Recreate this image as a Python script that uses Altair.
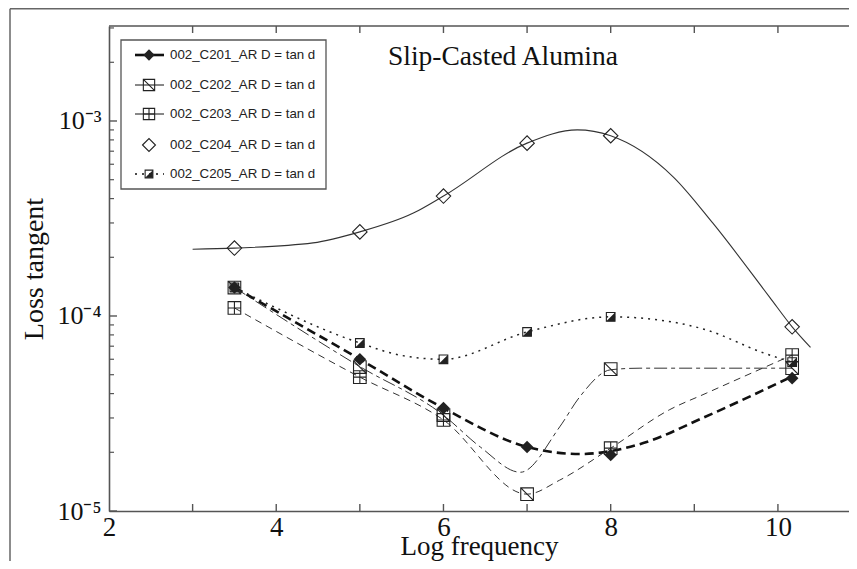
import altair as alt
import pandas as pd

# ---------------- data ----------------
names = ["002_C201_AR D = tan d", "002_C202_AR D = tan d", "002_C203_AR D = tan d",
         "002_C204_AR D = tan d", "002_C205_AR D = tan d"]
title_text = "Slip-Casted Alumina"

marker_x = [3.5, 5.0, 6.0, 7.0, 8.0, 10.17]
c201_marks = [1.40e-4, 6.0e-5, 3.37e-5, 2.13e-5, 1.94e-5, 4.8e-5]
c202_marks = [1.40e-4, 5.47e-5, 3.1e-5, 1.22e-5, 5.34e-5, 5.4e-5]
c203_marks = [1.10e-4, 4.86e-5, 2.93e-5, None, 2.10e-5, 6.3e-5]
c204_marks = [2.23e-4, 2.70e-4, 4.12e-4, 7.7e-4, 8.4e-4, 8.8e-5]
c205_marks = [1.40e-4, 7.27e-5, 6.0e-5, 8.28e-5, 9.9e-5, 5.8e-5]

c201_curve_x = [3.5, 5.0, 6.0, 7.0, 7.63, 8.39, 9.1, 10.17]
c201_curve_y = [1.40e-4, 6.0e-5, 3.37e-5, 2.13e-5, 1.96e-5, 2.23e-5, 3.0e-5, 4.9e-5]
c202_curve_x = [3.5, 5.0, 6.0, 6.44, 6.92, 7.39, 7.63, 8.0, 8.35, 10.17]
c202_curve_y = [1.40e-4, 5.5e-5, 3.1e-5, 2.13e-5, 1.58e-5, 2.7e-5, 3.85e-5, 5.3e-5, 5.4e-5, 5.4e-5]
c203_curve_x = [3.5, 5.0, 6.0, 7.0, 7.39, 8.0, 8.7, 9.15, 10.17]
c203_curve_y = [1.10e-4, 4.86e-5, 2.93e-5, 1.22e-5, 1.44e-5, 2.1e-5, 3.3e-5, 4.03e-5, 6.3e-5]
c204_curve_x = [3.0, 3.5, 4.44, 5.0, 5.64, 6.0, 7.0, 7.6, 8.0, 8.75, 9.22, 9.9, 10.17, 10.39]
c204_curve_y = [2.2e-4, 2.23e-4, 2.37e-4, 2.7e-4, 3.37e-4, 4.12e-4, 7.7e-4, 9.0e-4, 8.4e-4,
                5.16e-4, 3.0e-4, 1.25e-4, 8.8e-5, 6.9e-5]
c205_curve_x = [3.5, 5.0, 5.48, 6.0, 7.0, 8.0, 8.3, 9.15, 9.83, 10.17]
c205_curve_y = [1.40e-4, 7.27e-5, 6.3e-5, 6.0e-5, 8.28e-5, 9.9e-5, 9.8e-5, 8.47e-5, 6.46e-5, 5.8e-5]

x_label_values = [2, 4, 6, 8, 10]
x_tick_values = [3, 4, 5, 6, 7, 8, 9, 10]
y_label_values = [1e-5, 1e-4, 1e-3]
y_minor_values = [2e-5, 3e-5, 4e-5, 5e-5, 6e-5, 7e-5, 8e-5, 9e-5,
                  2e-4, 3e-4, 4e-4, 5e-4, 6e-4, 7e-4, 8e-4, 9e-4, 2e-3, 3e-3]

# ---------------- styling ----------------
W, H = 740, 485
SERIF = "Liberation Serif"
SANS = "Liberation Sans"
INK = "#222222"
AX = "#555555"

xs = alt.Scale(domain=[2, 10.85], nice=False, zero=False)
ys = alt.Scale(type="log", domain=[1e-5, 3.07e-3], nice=False)

xaxis = alt.Axis(values=x_label_values, ticks=False, grid=False, domainColor=AX, domainWidth=1.6,
                 labelFont=SERIF, labelFontSize=27, labelColor="#111", labelPadding=3,
                 labelFlush=False, title="Log frequency", titleFont=SERIF, titleFontSize=27,
                 titleFontWeight="normal", titleColor="#111", titleBaseline="alphabetic", titleY=43)
yaxis = alt.Axis(values=y_label_values, ticks=False, grid=False, domainColor=AX, domainWidth=1.6,
                 labelFont=SERIF, labelFontSize=26, labelColor="#111", labelPadding=8,
                 labelFlush=False,
                 labelExpr="datum.value < 3e-5 ? '10\u207b\u2075' : (datum.value < 3e-4 ? '10\u207b\u2074' : '10\u207b\u00b3')",
                 title="Loss tangent", titleFont=SERIF, titleFontSize=28, titleFontWeight="normal",
                 titleColor="#111", titleAngle=-90, titleBaseline="alphabetic", titleX=-67,
                 titleY=H / 2, titleAlign="center")


def X():
    return alt.X("x:Q", scale=xs, axis=xaxis)


def Y():
    return alt.Y("y:Q", scale=ys, axis=yaxis)


SQ_DIAG = "M-1,-1H1V1H-1Z M-1,-1L1,1"
SQ_CROSS = "M-1,-1H1V1H-1Z M0,-1V1 M-1,0H1"
SQ = "M-1,-1H1V1H-1Z"
TRI = "M1,-1L1,1L-1,1Z"

series = [
    dict(name=names[0], mx=c201_marks, cx=c201_curve_x, cy=c201_curve_y,
         dash=[9, 5], lw=2.6, color="#111",
         marks=[dict(shape="diamond", size=160, filled=True)],
         leg_dash=None, leg_lw=2.6),
    dict(name=names[1], mx=c202_marks, cx=c202_curve_x, cy=c202_curve_y,
         dash=[13, 4, 4, 4], lw=1.0, color="#333",
         marks=[dict(shape=SQ_DIAG, size=160, filled=False)],
         leg_dash=None, leg_lw=1.0),
    dict(name=names[2], mx=c203_marks, cx=c203_curve_x, cy=c203_curve_y,
         dash=[7, 5], lw=1.0, color="#333",
         marks=[dict(shape=SQ_CROSS, size=160, filled=False)],
         leg_dash=None, leg_lw=1.0),
    dict(name=names[3], mx=c204_marks, cx=c204_curve_x, cy=c204_curve_y,
         dash=None, lw=1.1, color="#333",
         marks=[dict(shape="diamond", size=210, filled=False)],
         leg_dash="none", leg_lw=1.0),
    dict(name=names[4], mx=c205_marks, cx=c205_curve_x, cy=c205_curve_y,
         dash=[2, 5], lw=1.5, color="#222",
         marks=[dict(shape=SQ, size=75, filled=False), dict(shape=TRI, size=75, filled=True)],
         leg_dash=[2, 5], leg_lw=1.5),
]

one = pd.DataFrame({"k": [0]})
layers = []

# outer figure frame (left and top edges)
layers.append(alt.Chart(one).mark_rule(color="#666", strokeWidth=1.5).encode(
    x=alt.value(-99), y=alt.value(-17.3), y2=alt.value(540)))
layers.append(alt.Chart(one).mark_rule(color="#666", strokeWidth=1.5).encode(
    x=alt.value(-99), x2=alt.value(760), y=alt.value(-17.3)))
# plot top border
layers.append(alt.Chart(one).mark_rule(color=AX, strokeWidth=1.6).encode(
    x=alt.value(0), x2=alt.value(W), y=alt.value(0)))

# curves
for s in series:
    df = pd.DataFrame({"x": s["cx"], "y": s["cy"]})
    kw = dict(interpolate="monotone", color=s["color"], strokeWidth=s["lw"])
    if s["dash"]:
        kw["strokeDash"] = s["dash"]
    layers.append(alt.Chart(df).mark_line(**kw).encode(x=X(), y=Y()))

# markers
for s in series:
    pts = [(xv, yv) for xv, yv in zip(marker_x, s["mx"]) if yv is not None]
    df = pd.DataFrame({"x": [p[0] for p in pts], "y": [p[1] for p in pts]})
    for m in s["marks"]:
        layers.append(alt.Chart(df).mark_point(shape=m["shape"], size=m["size"], filled=m["filled"],
                                               color=INK, strokeWidth=1.1, opacity=1).encode(x=X(), y=Y()))

# inward ticks
dfx = pd.DataFrame({"x": x_tick_values})
layers.append(alt.Chart(dfx).mark_rule(color=AX, strokeWidth=1.4).encode(
    x=X(), y=alt.value(H), y2=alt.value(H - 7)))
layers.append(alt.Chart(dfx).mark_rule(color=AX, strokeWidth=1.4).encode(
    x=X(), y=alt.value(0), y2=alt.value(7)))
dfy = pd.DataFrame({"y": y_label_values})
layers.append(alt.Chart(dfy).mark_rule(color=AX, strokeWidth=1.4).encode(
    y=Y(), x=alt.value(0), x2=alt.value(8)))
dfym = pd.DataFrame({"y": y_minor_values})
layers.append(alt.Chart(dfym).mark_rule(color=AX, strokeWidth=1.2).encode(
    y=Y(), x=alt.value(0), x2=alt.value(5)))

# legend box
layers.append(alt.Chart(one).mark_rect(fill="white", stroke="#555", strokeWidth=1.3).encode(
    x=alt.value(12), x2=alt.value(217), y=alt.value(14), y2=alt.value(163)))
row_y = [29, 59, 88, 119, 148]
for i, s in enumerate(series):
    dft = pd.DataFrame({"t": [s["name"]]})
    yy = row_y[i]
    if s["leg_dash"] != "none":
        kw = dict(color="#111", strokeWidth=s["leg_lw"])
        if s["leg_dash"]:
            kw["strokeDash"] = s["leg_dash"]
        layers.append(alt.Chart(dft).mark_rule(**kw).encode(
            x=alt.value(26), x2=alt.value(55), y=alt.value(yy)))
    for m in s["marks"]:
        layers.append(alt.Chart(dft).mark_point(shape=m["shape"], size=m["size"] * 0.8,
                                                filled=m["filled"], color=INK, strokeWidth=1.1,
                                                opacity=1).encode(
            x=alt.value(40), y=alt.value(yy)))
    layers.append(alt.Chart(dft).mark_text(font=SANS, fontSize=13.3, align="left", baseline="middle",
                                           color="#222").encode(
        x=alt.value(61), y=alt.value(yy), text="t:N"))

# chart title inside the plot
dftitle = pd.DataFrame({"t": [title_text]})
layers.append(alt.Chart(dftitle).mark_text(font=SERIF, fontSize=27.5, align="center",
                                           baseline="alphabetic", color="#111").encode(
    x=alt.value(394), y=alt.value(39), text="t:N"))

chart = alt.layer(*layers).properties(
    width=W, height=H,
    padding={"left": 101, "top": 18, "right": 0, "bottom": 50},
    autosize=alt.AutoSizeParams(type="none"),
    background="white",
).configure_view(stroke=None)

chart.save("out.html", embed_options={"renderer": "svg", "actions": False})
